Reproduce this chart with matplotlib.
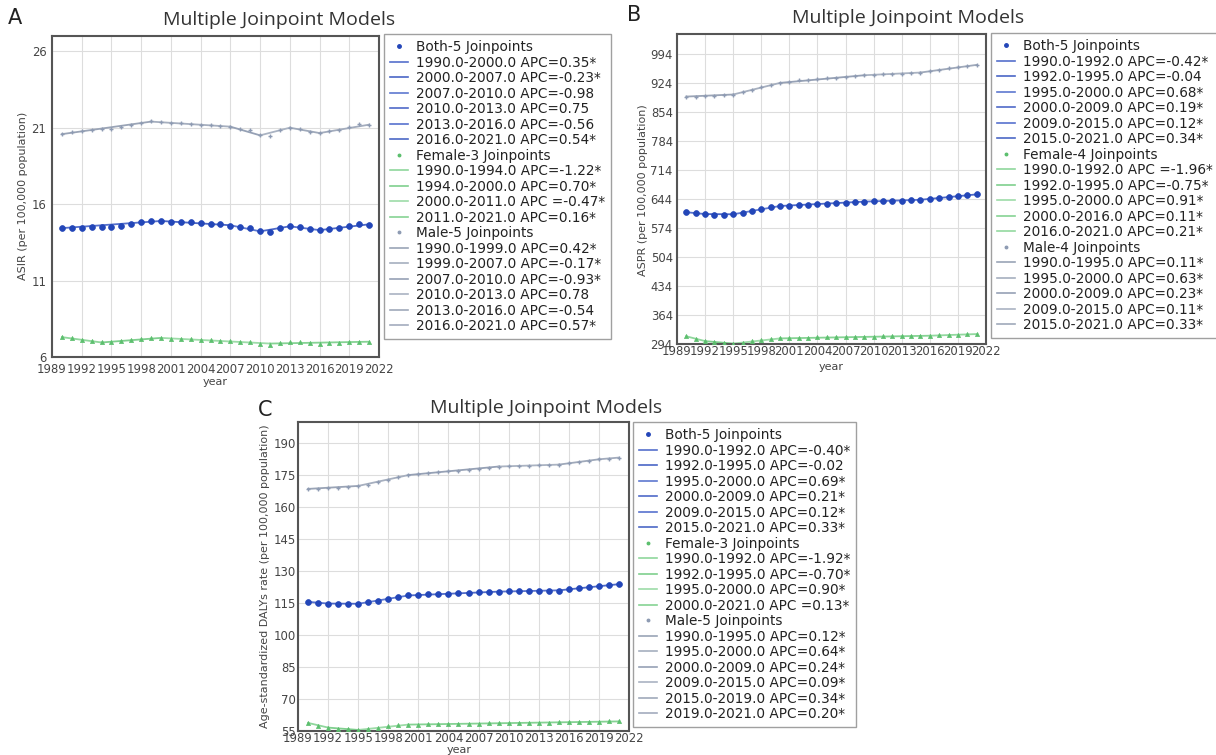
import matplotlib
matplotlib.use("Agg")
import matplotlib.pyplot as plt
from matplotlib.lines import Line2D
import numpy as np

plt.rcParams['font.family'] = ['DejaVu Sans']

years = list(range(1990, 2022))

# ---------------- Panel A (ASIR) ----------------
a_both = [14.43, 14.45, 14.47, 14.49, 14.49, 14.49, 14.60, 14.73, 14.82, 14.91, 14.89, 14.82,
          14.82, 14.82, 14.76, 14.69, 14.69, 14.60, 14.49, 14.45, 14.23, 14.17, 14.47, 14.56,
          14.49, 14.36, 14.30, 14.38, 14.43, 14.56, 14.69, 14.65]
a_female = [7.31, 7.22, 7.11, 7.03, 6.96, 6.96, 7.03, 7.11, 7.16, 7.22, 7.24, 7.20,
            7.18, 7.16, 7.11, 7.09, 7.07, 7.03, 6.98, 6.96, 6.87, 6.81, 6.94, 6.96,
            6.96, 6.92, 6.87, 6.92, 6.94, 6.96, 7.00, 6.98]
a_male = [20.59, 20.72, 20.80, 20.85, 20.91, 20.91, 21.04, 21.20, 21.30, 21.41, 21.37, 21.28,
          21.28, 21.26, 21.20, 21.15, 21.13, 21.04, 20.89, 20.83, 20.52, 20.43, 20.85, 21.00,
          20.91, 20.74, 20.65, 20.76, 20.85, 21.04, 21.22, 21.15]
a_both_jp = [1990, 2000, 2007, 2010, 2013, 2016, 2021]
a_both_fit = [14.43, 14.90, 14.62, 14.22, 14.55, 14.30, 14.68]
a_female_jp = [1990, 1994, 2000, 2011, 2021]
a_female_fit = [7.30, 6.95, 7.25, 6.88, 7.00]
a_male_jp = [1990, 1999, 2007, 2010, 2013, 2016, 2021]
a_male_fit = [20.58, 21.40, 21.07, 20.50, 21.00, 20.65, 21.20]
a_both_lab = ["1990.0-2000.0 APC=0.35*", "2000.0-2007.0 APC=-0.23*", "2007.0-2010.0 APC=-0.98",
              "2010.0-2013.0 APC=0.75", "2013.0-2016.0 APC=-0.56", "2016.0-2021.0 APC=0.54*"]
a_female_lab = ["1990.0-1994.0 APC=-1.22*", "1994.0-2000.0 APC=0.70*", "2000.0-2011.0 APC =-0.47*",
                "2011.0-2021.0 APC=0.16*"]
a_male_lab = ["1990.0-1999.0 APC=0.42*", "1999.0-2007.0 APC=-0.17*", "2007.0-2010.0 APC=-0.93*",
              "2010.0-2013.0 APC=0.78", "2013.0-2016.0 APC=-0.54", "2016.0-2021.0 APC=0.57*"]
a_yticks = [6, 11, 16, 21, 26]

# ---------------- Panel B (ASPR) ----------------
b_both = [612.7, 609.5, 607.0, 606.3, 606.3, 607.0, 610.3, 615.0, 620.0, 624.0, 627.0, 628.0,
          628.7, 630.3, 631.0, 632.8, 633.5, 635.0, 636.0, 637.6, 638.4, 639.2, 639.2, 640.0,
          640.8, 642.4, 644.8, 647.0, 649.6, 652.0, 653.6, 655.0]
b_female = [312.5, 306.8, 301.0, 298.0, 295.6, 294.8, 297.0, 300.4, 303.6, 306.0, 307.6, 308.4,
            309.2, 309.2, 310.0, 310.0, 311.0, 311.0, 311.7, 311.7, 311.7, 312.5, 312.5, 313.3,
            313.3, 314.0, 314.0, 315.0, 315.7, 316.5, 317.3, 318.0]
b_male = [891.0, 891.0, 892.0, 893.0, 894.5, 896.0, 901.0, 906.5, 913.0, 919.0, 924.0, 927.0,
          930.0, 931.4, 933.0, 935.4, 937.0, 938.6, 941.0, 942.6, 944.0, 945.0, 946.0, 946.6,
          947.4, 949.0, 952.0, 955.5, 959.5, 963.0, 965.0, 967.5]
b_both_jp = [1990, 1992, 1995, 2000, 2009, 2015, 2021]
b_both_fit = [612.0, 607.5, 607.0, 627.0, 637.5, 642.0, 655.0]
b_female_jp = [1990, 1992, 1995, 2000, 2016, 2021]
b_female_fit = [312.5, 301.0, 295.0, 307.5, 314.0, 318.0]
b_male_jp = [1990, 1995, 2000, 2009, 2015, 2021]
b_male_fit = [891.0, 896.0, 924.0, 942.5, 949.0, 967.5]
b_both_lab = ["1990.0-1992.0 APC=-0.42*", "1992.0-1995.0 APC=-0.04", "1995.0-2000.0 APC=0.68*",
              "2000.0-2009.0 APC=0.19*", "2009.0-2015.0 APC=0.12*", "2015.0-2021.0 APC=0.34*"]
b_female_lab = ["1990.0-1992.0 APC =-1.96*", "1992.0-1995.0 APC=-0.75*", "1995.0-2000.0 APC=0.91*",
                "2000.0-2016.0 APC=0.11*", "2016.0-2021.0 APC=0.21*"]
b_male_lab = ["1990.0-1995.0 APC=0.11*", "1995.0-2000.0 APC=0.63*", "2000.0-2009.0 APC=0.23*",
              "2009.0-2015.0 APC=0.11*", "2015.0-2021.0 APC=0.33*"]
b_yticks = [294, 364, 434, 504, 574, 644, 714, 784, 854, 924, 994]

# ---------------- Panel C (DALYs) ----------------
c_both = [115.6, 115.2, 114.7, 114.5, 114.5, 114.7, 115.3, 116.1, 117.0, 118.0, 118.6, 118.9,
          119.2, 119.4, 119.5, 119.7, 119.9, 120.0, 120.2, 120.3, 120.5, 120.5, 120.6, 120.6,
          120.8, 120.9, 121.4, 121.9, 122.5, 123.0, 123.5, 123.9]
c_female = [58.8, 57.5, 56.6, 56.1, 55.8, 55.5, 55.9, 56.6, 57.2, 57.7, 58.0, 58.0,
            58.1, 58.1, 58.3, 58.3, 58.4, 58.4, 58.6, 58.6, 58.6, 58.8, 58.8, 58.9,
            58.9, 59.1, 59.1, 59.2, 59.2, 59.4, 59.5, 59.5]
c_male = [168.6, 168.6, 168.9, 169.2, 169.5, 170.0, 170.6, 171.7, 173.0, 174.2, 175.1, 175.6,
          175.9, 176.4, 176.9, 177.2, 177.6, 178.1, 178.6, 179.0, 179.4, 179.4, 179.5, 179.7,
          179.8, 180.0, 180.6, 181.2, 181.9, 182.5, 182.8, 183.3]
c_both_jp = [1990, 1992, 1995, 2000, 2009, 2015, 2021]
c_both_fit = [115.6, 114.8, 114.7, 118.6, 120.4, 121.0, 123.9]
c_female_jp = [1990, 1992, 1995, 2000, 2021]
c_female_fit = [58.8, 56.6, 55.5, 58.0, 59.5]
c_male_jp = [1990, 1995, 2000, 2009, 2015, 2019, 2021]
c_male_fit = [168.6, 170.0, 175.1, 179.1, 180.0, 182.5, 183.3]
c_both_lab = ["1990.0-1992.0 APC=-0.40*", "1992.0-1995.0 APC=-0.02", "1995.0-2000.0 APC=0.69*",
              "2000.0-2009.0 APC=0.21*", "2009.0-2015.0 APC=0.12*", "2015.0-2021.0 APC=0.33*"]
c_female_lab = ["1990.0-1992.0 APC=-1.92*", "1992.0-1995.0 APC=-0.70*", "1995.0-2000.0 APC=0.90*",
                "2000.0-2021.0 APC =0.13*"]
c_male_lab = ["1990.0-1995.0 APC=0.12*", "1995.0-2000.0 APC=0.64*", "2000.0-2009.0 APC=0.24*",
              "2009.0-2015.0 APC=0.09*", "2015.0-2019.0 APC=0.34*", "2019.0-2021.0 APC=0.20*"]
c_yticks = [55, 70, 85, 100, 115, 130, 145, 160, 175, 190]

xticks = [1989, 1992, 1995, 1998, 2001, 2004, 2007, 2010, 2013, 2016, 2019, 2022]

W, H = 1216, 755
fig = plt.figure(figsize=(W / 100, H / 100), dpi=100)

BOTH_C = "#2346b8"
FEM_C = "#5cbf6e"
MALE_C = "#8e9bb3"
BOTH_LINES = ["#5570cc", "#4a66c6", "#5d78d0", "#4f6ac8", "#5872ce", "#4c68c6"]
FEM_LINES = ["#8fd79c", "#7fcf8e", "#9ddca8", "#86d394", "#93d9a0"]
MALE_LINES = ["#9aa4b6", "#a6afbf", "#96a1b5", "#aab3c2", "#9fa9ba", "#a3acbd"]
TCOL = "#444444"


def px_axes(l, r, t, b):
    return fig.add_axes([l / W, 1 - b / H, (r - l) / W, (b - t) / H])


def draw_panel(ax, both, fem, male, jps, fits, labs, names, yticks, ylim, xpad, ypad):
    handles = []
    series = [(both, BOTH_C, 'o', 4.2, BOTH_LINES),
              (fem, FEM_C, '^', 3.0, FEM_LINES),
              (male, MALE_C, '+', 3.2, MALE_LINES)]
    for k, (vals, col, mk, ms, lcols) in enumerate(series):
        ax.plot(years, vals, linestyle='none', marker=mk, ms=ms, color=col,
                markeredgewidth=1.0 if mk == '+' else 0.5, zorder=3)
        jp, ft = jps[k], fits[k]
        handles.append(Line2D([], [], linestyle='none', marker='o', ms=2.5 if k == 0 else 1.8,
                              color=col, label=names[k]))
        for i in range(len(jp) - 1):
            lc = lcols[i % len(lcols)]
            ax.plot(jp[i:i + 2], ft[i:i + 2], color=lc, lw=1.3, zorder=2)
            handles.append(Line2D([], [], color=lc, lw=1.2, label=labs[k][i]))
    ax.set_xlim(1989, 2022)
    ax.set_ylim(*ylim)
    ax.set_xticks(xticks)
    ax.set_yticks(yticks)
    ax.tick_params(length=0, labelsize=8.4, colors=TCOL)
    ax.tick_params(axis='x', pad=xpad)
    ax.tick_params(axis='y', pad=ypad)
    ax.grid(True, color="#dddddd", lw=0.8)
    ax.set_axisbelow(True)
    for s in ax.spines.values():
        s.set_color("#555555")
        s.set_linewidth(1.5)
    return handles


def add_legend(handles, l, t):
    leg = fig.legend(handles=handles, loc='upper left', bbox_to_anchor=(l / W, 1 - t / H),
                     fontsize=9.8, frameon=True, fancybox=False, handlelength=1.3,
                     handletextpad=0.6, labelspacing=0.11, borderpad=0.45, borderaxespad=0,
                     labelcolor="#222222")
    leg.get_frame().set_edgecolor("#888888")
    leg.get_frame().set_linewidth(1.0)
    return leg


def ftext(x, y, txt, **kw):
    fig.text(x / W, 1 - y / H, txt, **kw)


# Panel A
axA = px_axes(52, 379, 36, 357)
hA = draw_panel(axA, a_both, a_female, a_male,
                [a_both_jp, a_female_jp, a_male_jp], [a_both_fit, a_female_fit, a_male_fit],
                [a_both_lab, a_female_lab, a_male_lab],
                ["Both-5 Joinpoints", "Female-3 Joinpoints", "Male-5 Joinpoints"],
                a_yticks, (6, 27), 4, 4)
add_legend(hA, 384, 34)
ftext(215, 382, "year", ha='center', va='center', fontsize=8, color=TCOL)
ftext(23, 196, "ASIR (per 100,000 population)", ha='center', va='center', rotation=90,
      fontsize=8, color=TCOL)

# Panel B
axB = px_axes(677, 986, 34, 344)
hB = draw_panel(axB, b_both, b_female, b_male,
                [b_both_jp, b_female_jp, b_male_jp], [b_both_fit, b_female_fit, b_male_fit],
                [b_both_lab, b_female_lab, b_male_lab],
                ["Both-5 Joinpoints", "Female-4 Joinpoints", "Male-4 Joinpoints"],
                b_yticks, (294, 1042), 1, 3)
add_legend(hB, 991, 33)
ftext(831, 367, "year", ha='center', va='center', fontsize=8, color=TCOL)
ftext(643, 190, "ASPR (per 100,000 population)", ha='center', va='center', rotation=90,
      fontsize=8, color=TCOL)

# Panel C
axC = px_axes(298, 629, 422, 731)
hC = draw_panel(axC, c_both, c_female, c_male,
                [c_both_jp, c_female_jp, c_male_jp], [c_both_fit, c_female_fit, c_male_fit],
                [c_both_lab, c_female_lab, c_male_lab],
                ["Both-5 Joinpoints", "Female-3 Joinpoints", "Male-5 Joinpoints"],
                c_yticks, (55, 200), 1, 1.5)
add_legend(hC, 633, 422)
ftext(459, 750, "year", ha='center', va='center', fontsize=8, color=TCOL)
ftext(265, 576, "Age-standardized DALYs rate (per 100,000 population)", ha='center', va='center',
      rotation=90, fontsize=8, color=TCOL)

# Titles and panel letters
for x, y, txt in [(163, 20, "Multiple Joinpoint Models"), (792, 18, "Multiple Joinpoint Models"),
                  (430, 408, "Multiple Joinpoint Models")]:
    ftext(x, y, txt, ha='left', va='center', fontsize=14, color="#333333",
          family=['Open Sans', 'DejaVu Sans'])
for x, y, txt in [(8, 18, "A"), (627, 15, "B"), (258, 410, "C")]:
    ftext(x, y, txt, ha='left', va='center', fontsize=15, color="#222222")

fig.savefig("out.png", dpi=100, facecolor="white")
